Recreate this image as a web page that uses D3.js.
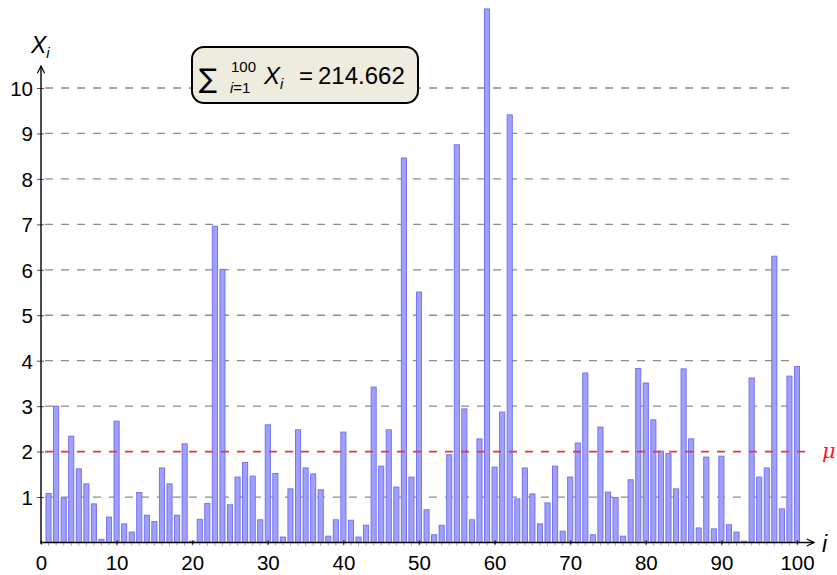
<!DOCTYPE html>
<html><head><meta charset="utf-8">
<script src="https://cdn.jsdelivr.net/npm/d3@7"></script>
<style>body{margin:0;background:#fff}svg{display:block;font-family:"Liberation Sans",Arial,sans-serif}</style>
</head><body><svg id="c" width="837" height="575"></svg>
<script>
const indices = d3.range(1, 101);
const values = [
1.08,3.00,0.98,2.34,1.62,1.29,0.85,0.07,0.56,2.67,
0.41,0.23,1.10,0.60,0.46,1.64,1.29,0.60,2.17,0.03,
0.51,0.86,6.96,6.01,0.83,1.44,1.76,1.46,0.50,2.59,
1.52,0.12,1.18,2.48,1.64,1.51,1.16,0.14,0.50,2.43,
0.49,0.12,0.38,3.42,1.68,2.48,1.22,8.46,1.44,5.51,
0.72,0.17,0.38,1.93,8.75,2.94,0.50,2.28,11.74,1.66,
2.87,9.41,0.96,1.64,1.07,0.41,0.87,1.68,0.25,1.44,
2.19,3.73,0.17,2.54,1.11,0.99,0.14,1.38,3.83,3.51,
2.70,2.01,1.96,1.18,3.82,2.28,0.32,1.88,0.30,1.90,
0.39,0.23,0.03,3.62,1.44,1.64,6.30,0.74,3.66,3.87];
const xTicks = [0,10,20,30,40,50,60,70,80,90,100];
const yTicks = [1,2,3,4,5,6,7,8,9,10];
const mu = 2;
const sumText = "214.662";

const svg = d3.select("#c");
const x = d3.scaleLinear().domain([0,100]).range([41,797]);
const y = d3.scaleLinear().domain([0,10]).range([542.5,88]);
const bw = (x(1)-x(0))*0.68;

// grid lines
svg.append("g").selectAll("line").data(yTicks.filter(t=>t!==mu)).join("line")
  .attr("x1",x(0)).attr("x2",x(100)).attr("y1",d=>y(d)).attr("y2",d=>y(d))
  .attr("stroke","#8c8c8c").attr("stroke-width",1.3).attr("stroke-dasharray","8,8").attr("stroke-dashoffset",-4);

// bars
svg.append("g").selectAll("rect").data(values).join("rect")
  .attr("x",(d,i)=>x(indices[i])-bw/2).attr("width",bw)
  .attr("y",d=>y(d)).attr("height",d=>y(0)-y(d))
  .attr("fill","#a0a0fc").attr("stroke","#6c6cf0").attr("stroke-width",0.9);

// mu line
svg.append("line").attr("x1",x(0)).attr("x2",812).attr("y1",y(mu)).attr("y2",y(mu))
  .attr("stroke","#e03a3a").attr("stroke-width",1.6).attr("stroke-dasharray","8,8").attr("stroke-dashoffset",-4);
svg.append("text").attr("x",822).attr("y",y(mu)+6).attr("fill","#ff1a1a")
  .attr("font-style","italic").attr("font-size",21).attr("font-family","DejaVu Serif, serif").text("μ");

// axes
const defs = svg.append("defs");
defs.append("marker").attr("id","arr").attr("viewBox","0 0 10 10").attr("refX",9).attr("refY",5)
  .attr("markerWidth",9).attr("markerHeight",9).attr("orient","auto-start-reverse").attr("markerUnits","userSpaceOnUse")
  .append("path").attr("d","M1,1 L9,5 L1,9").attr("fill","none").attr("stroke","#000").attr("stroke-width",1.3);

// minor x ticks
svg.append("g").selectAll("line").data(d3.range(1,101)).join("line")
  .attr("x1",d=>x(d)).attr("x2",d=>x(d)).attr("y1",y(0)).attr("y2",y(0)+3)
  .attr("stroke","#888").attr("stroke-width",0.8);

const xAxis = d3.axisBottom(x).tickValues(xTicks).tickSize(4).tickPadding(9).tickFormat(d3.format("d"));
const gx = svg.append("g").attr("transform",`translate(0,${y(0)})`).call(xAxis);
gx.select(".domain").remove();
gx.selectAll(".tick line").attr("y1",-2).attr("y2",2).attr("stroke-width",1.2);
gx.selectAll("text").attr("font-size",20.5).attr("font-family","Liberation Sans, Arial, sans-serif").attr("fill","#000");

const yAxis = d3.axisLeft(y).tickValues(yTicks).tickSize(4).tickPadding(4).tickFormat(d3.format("d"));
const gy = svg.append("g").attr("transform",`translate(${x(0)},0)`).call(yAxis);
gy.select(".domain").remove();
gy.selectAll(".tick line").attr("x1",-4).attr("x2",3).attr("stroke","#555");
gy.selectAll("text").attr("font-size",20.5).attr("font-family","Liberation Sans, Arial, sans-serif").attr("fill","#000").attr("dy","0.36em");

svg.append("line").attr("x1",x(0)-1).attr("x2",814).attr("y1",y(0)).attr("y2",y(0))
  .attr("stroke","#000").attr("stroke-width",1.4).attr("marker-end","url(#arr)");
svg.append("line").attr("x1",x(0)).attr("x2",x(0)).attr("y1",y(0)+1).attr("y2",66)
  .attr("stroke","#000").attr("stroke-width",1.4).attr("marker-end","url(#arr)");

// axis labels
svg.append("text").attr("x",822).attr("y",552).attr("font-size",23).attr("font-style","italic").text("i");
const yl = svg.append("text").attr("x",31).attr("y",53).attr("font-size",23).attr("font-style","italic");
yl.append("tspan").text("X");
yl.append("tspan").attr("font-size",15).attr("dy",5).text("i");

// annotation box
svg.append("rect").attr("x",192).attr("y",47).attr("width",226).attr("height",56).attr("rx",12)
  .attr("fill","#eeebdf").attr("stroke","#000").attr("stroke-width",2);
const t = svg.append("g").attr("font-size",24);
t.append("text").attr("x",199).attr("y",88).attr("font-size",27).attr("font-family","DejaVu Sans, sans-serif").text("∑");
t.append("text").attr("x",231).attr("y",72).attr("font-size",15).text("100");
const sub = t.append("text").attr("x",230).attr("y",93).attr("font-size",15);
sub.append("tspan").attr("font-style","italic").text("i");
sub.append("tspan").text("=1");
const main = t.append("text").attr("x",264).attr("y",84);
main.append("tspan").attr("font-style","italic").text("X");
main.append("tspan").attr("font-style","italic").attr("font-size",15).attr("dy",5).text("i");
t.append("text").attr("x",299).attr("y",84).text("=");
t.append("text").attr("x",318).attr("y",84).text(sumText);
</script></body></html>
